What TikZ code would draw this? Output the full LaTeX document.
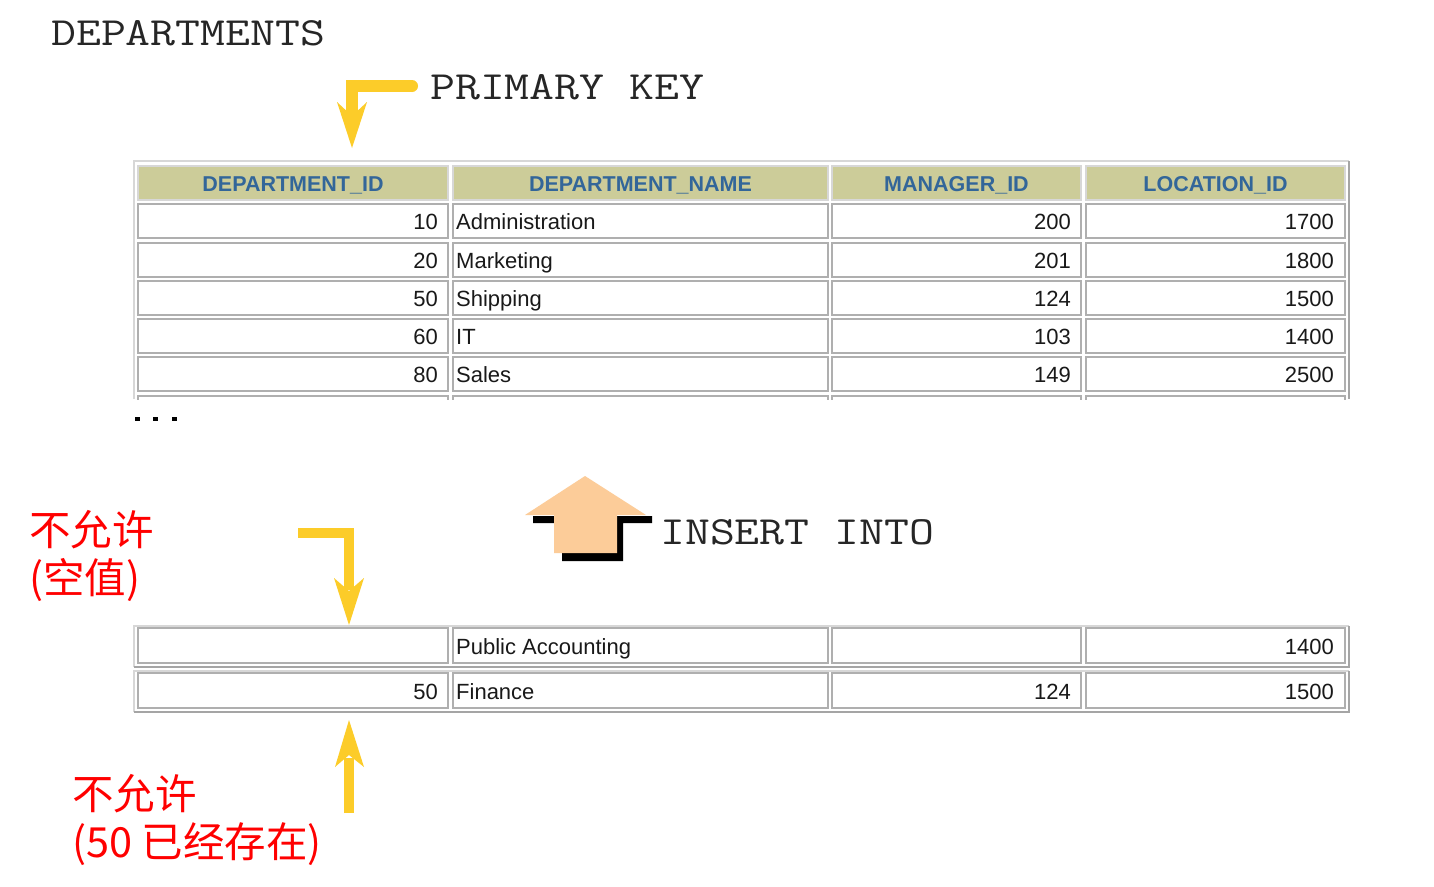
\documentclass[tikz,border=0pt]{standalone}
\usepackage{graphicx}
\usepackage{fontspec}
\setmainfont{Liberation Sans}
\newfontfamily\cjkfont{Noto Sans CJK SC}
\definecolor{hdrfill}{RGB}{204,204,153}
\definecolor{hdrtext}{RGB}{51,102,153}
\definecolor{arrowyellow}{RGB}{252,204,41}
\definecolor{peach}{RGB}{252,204,153}
\definecolor{cellline}{RGB}{175,175,175}
\definecolor{framelight}{RGB}{215,215,215}
\definecolor{framedark}{RGB}{165,165,165}
\newcommand{\monotext}[1]{\scalebox{1.21}[1]{#1}}
\begin{document}
\begin{tikzpicture}[x=1pt,y=-1pt,
  cellbox/.style={draw=cellline, line width=1.6pt, fill=white, inner sep=0pt, outer sep=0pt, anchor=north west},
  hdrbox/.style={cellbox, fill=hdrfill, draw=framelight},
  hdrtxt/.style={inner sep=0pt, anchor=base, text=hdrtext, font=\fontsize{21.5}{21.5}\selectfont\bfseries},
  datatxt/.style={inner sep=0pt, text=black!90, font=\fontsize{22}{22}\selectfont},
  monotxt/.style={inner sep=0pt, anchor=base west, text=black!85, font=\ttfamily\fontsize{40}{40}\selectfont},
  redtxt/.style={inner sep=0pt, anchor=base west, text=red, font=\cjkfont\fontsize{41.5}{41.5}\selectfont},
  yarrow/.style={draw=arrowyellow, line join=miter},
  yhead/.style={fill=arrowyellow, draw=none},
  frame/.style={line width=1.5pt}
]
\useasboundingbox (0,0) rectangle (1434,886);
\fill[white] (0,0) rectangle (1434,886);

% titles
\node[monotxt] (title) at (51,45) {\monotext{DEPARTMENTS}};
\node[monotxt] (pk) at (430,99) {\monotext{PRIMARY KEY}};
\node[monotxt] (ins) at (660,544) {\monotext{INSERT INTO}};

% main table frame
\draw[frame, framelight] (134,399) -- (134,161) -- (1349,161);
\draw[frame, framedark] (1349,161) -- (1349,399);

% header
\foreach \l/\r/\txt [count=\c] in {138/448/DEPARTMENT\_ID, 453/828/DEPARTMENT\_NAME, 832/1081/MANAGER\_ID, 1086/1345/LOCATION\_ID}{
  \node[hdrbox, minimum width={(\r-\l)*1pt}, minimum height=34pt] (h\c) at (\l,166) {};
  \node[hdrtxt] (ht\c) at ({(\l+\r)/2},191) {\txt};
}

% data rows
\foreach \t/\a/\b/\m/\loc [count=\i] in {204/10/Administration/200/1700, 243/20/Marketing/201/1800, 281/50/Shipping/124/1500, 319/60/IT/103/1400, 357/80/Sales/149/2500}{
  \foreach \l/\r [count=\c] in {138/448, 453/828, 832/1081, 1086/1345}{
    \node[cellbox, minimum width={(\r-\l)*1pt}, minimum height=34pt] (r\i-\c) at (\l,\t) {};
  }
  \node[datatxt, anchor=base east] (d\i-1) at (438,\t+25) {\a};
  \node[datatxt, anchor=base west] (d\i-2) at (456,\t+25) {\b};
  \node[datatxt, anchor=base east] (d\i-3) at (1071,\t+25) {\m};
  \node[datatxt, anchor=base east] (d\i-4) at (1334,\t+25) {\loc};
}
% partial row
\begin{scope}
  \clip (120,150) rectangle (1360,399);
  \foreach \l/\r [count=\c] in {138/448, 453/828, 832/1081, 1086/1345}{
    \node[cellbox, minimum width={(\r-\l)*1pt}, minimum height=34pt] (r6-\c) at (\l,396) {};
  }
\end{scope}

% ellipsis
\foreach \x [count=\k] in {135,153,172}{
  \fill[black] (\x,417) rectangle ++(5,4);
}

% bottom tables
\draw[frame, framelight] (134,667) -- (134,626) -- (1349,626);
\draw[frame, framedark] (134,667) -- (1349,667) -- (1349,626);
\draw[frame, framelight] (134,712) -- (134,671) -- (1349,671);
\draw[frame, framedark] (134,712) -- (1349,712) -- (1349,671);
\foreach \l/\r [count=\c] in {138/448, 453/828, 832/1081, 1086/1345}{
  \node[cellbox, minimum width={(\r-\l)*1pt}, minimum height=35pt] (ba-\c) at (\l,628) {};
  \node[cellbox, minimum width={(\r-\l)*1pt}, minimum height=35pt] (bb-\c) at (\l,673) {};
}
\node[datatxt, anchor=base west] (pa) at (456,654) {Public Accounting};
\node[datatxt, anchor=base east] (pl) at (1334,654) {1400};
\node[datatxt, anchor=base east] (fi) at (438,699) {50};
\node[datatxt, anchor=base west] (fn) at (456,699) {Finance};
\node[datatxt, anchor=base east] (fm) at (1071,699) {124};
\node[datatxt, anchor=base east] (fl) at (1334,699) {1500};

% primary key arrow
\coordinate (pkA) at (412,86);
\coordinate (pkB) at (352,86);
\coordinate (pkC) at (352,118);
\fill[arrowyellow] (pkA) circle (6pt);
\draw[yarrow, line width=12pt] (pkA) -- (pkB) -- (pkC);
\fill[yhead] (337,102) -- (352,148) -- (367,102) -- (352,116) -- cycle;

% null arrow
\coordinate (nA) at (298,533);
\coordinate (nB) at (349,533);
\coordinate (nC) at (349,590);
\draw[yarrow, line width=9.5pt] (nA) -- (nB) -- (nC);
\fill[yhead] (334,578) -- (349,625) -- (364,578) -- (349,591) -- cycle;

% duplicate arrow
\coordinate (uA) at (349,813);
\coordinate (uB) at (349,758);
\draw[yarrow, line width=9.5pt] (uA) -- (uB);
\fill[yhead] (335,767) -- (349,720) -- (364,767) -- (349,755) -- cycle;

% insert arrow (shadow then body)
\fill[black] (533,516) -- (652,516) -- (652,523) -- (623,523) -- (623,561) -- (562,561) -- (562,523) -- (533,523) -- cycle;
\fill[peach] (525,515) -- (585,476) -- (646,515) -- (617,515) -- (617,553) -- (554,553) -- (554,515) -- cycle;

% red notes
\node[redtxt] (n1a) at (29,545) {不允许};
\node[redtxt] (n1b) at (29,593) {(空值)};
\node[redtxt] (n2a) at (72,809) {不允许};
\node[redtxt] (n2b) at (72,857) {(50 已经存在)};
\end{tikzpicture}
\end{document}
